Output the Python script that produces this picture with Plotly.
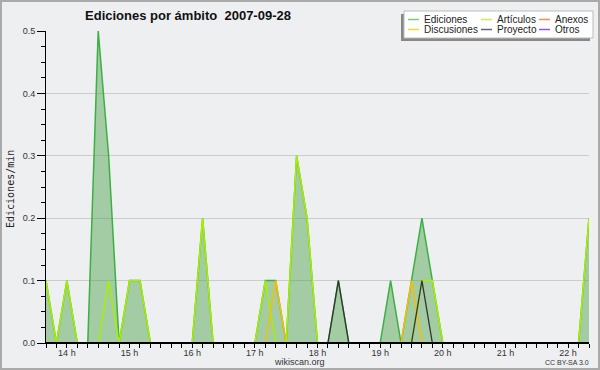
import pandas as pd
import plotly.graph_objects as go

# ---- data (10-minute bins, edits per minute) ----
start_time = "2007-09-28 13:40"
n_bins = 53
times = pd.date_range(start_time, periods=n_bins, freq="10min")

ediciones = [0.1, 0, 0.1, 0, 0, 0.5, 0.3, 0, 0.1, 0.1,
             0, 0, 0, 0, 0, 0.2, 0, 0, 0, 0,
             0, 0.1, 0.1, 0, 0.3, 0.2, 0, 0, 0.1, 0,
             0, 0, 0, 0.1, 0, 0.1, 0.2, 0.1, 0, 0,
             0, 0, 0, 0, 0, 0, 0, 0, 0, 0,
             0, 0, 0.2]
articulos = [0.1, 0, 0.1, 0, 0, 0, 0.1, 0, 0.1, 0.1,
             0, 0, 0, 0, 0, 0.2, 0, 0, 0, 0,
             0, 0.1, 0, 0, 0.3, 0.2, 0, 0, 0, 0,
             0, 0, 0, 0, 0, 0, 0.1, 0.1, 0, 0,
             0, 0, 0, 0, 0, 0, 0, 0, 0, 0,
             0, 0, 0.2]
anexos = [0] * 53
discusiones = [0] * 22 + [0.1] + [0] * 12 + [0.1] + [0] * 17
proyecto = [0] * 28 + [0.1] + [0] * 7 + [0.1] + [0] * 16
otros = [0] * 53

hours = [14, 15, 16, 17, 18, 19, 20, 21, 22]
hour_vals = [f"2007-09-28 {h:02d}:00" for h in hours]
hour_text = [f"{h} h" for h in hours]

title_text = "Ediciones por ámbito\u00a0 2007-09-28"
legend_names = ["Ediciones", "Artículos", "Anexos", "Discusiones", "Proyecto", "Otros"]
legend_colors = ["#77cc77", "#ccee55", "#ff8855", "#ffd633", "#666666", "#9955ee"]

BG = "#eeeff1"
W, H = 600, 370
L, R, T, B = 46, 11, 31, 27
PW, PH = W - L - R, H - T - B


def fx(px):
    return (px - L) / PW


def fy(py):
    return (H - B - py) / PH


fig = go.Figure()
fig.add_trace(go.Scatter(x=times, y=ediciones, mode="lines", name="Ediciones",
                         line=dict(color="#3cb043", width=1.5),
                         fill="tozeroy", fillcolor="rgba(70,160,70,0.45)"))
fig.add_trace(go.Scatter(x=times, y=anexos, mode="lines", name="Anexos",
                         line=dict(color="#ff7744", width=1.5)))
fig.add_trace(go.Scatter(x=times, y=otros, mode="lines", name="Otros",
                         line=dict(color="#9944ff", width=1.5)))
fig.add_trace(go.Scatter(x=times, y=articulos, mode="lines", name="Artículos",
                         line=dict(color="#aaee00", width=1.5)))
fig.add_trace(go.Scatter(x=times, y=discusiones, mode="lines", name="Discusiones",
                         line=dict(color="#f5c000", width=1.5)))
fig.add_trace(go.Scatter(x=times, y=proyecto, mode="lines", name="Proyecto",
                         line=dict(color="#333333", width=1.3)))

fig.update_layout(
    width=W, height=H, showlegend=False,
    margin=dict(l=L, r=R, t=T, b=B, pad=0),
    paper_bgcolor=BG, plot_bgcolor=BG,
    font=dict(family="Liberation Sans", size=9, color="#333333"),
    title=dict(text=title_text, xref="container", yref="container",
               x=188 / W, xanchor="center", y=1 - 15 / H, yanchor="middle",
               font=dict(family="Liberation Sans", size=13, color="#111111", weight="bold")),
)
fig.update_xaxes(
    range=[times[0], times[-1]], showgrid=False, zeroline=False,
    showline=True, linecolor="#000000", linewidth=1,
    tickmode="array", tickvals=hour_vals, ticktext=hour_text,
    ticks="outside", ticklen=4, tickcolor="#000000", tickwidth=1,
    ticklabelstandoff=-3,
    tickfont=dict(size=9, color="#333333"),
    minor=dict(dtick=600000, tick0=times[0], ticks="outside", ticklen=4,
               tickcolor="#000000", showgrid=False),
)
fig.update_yaxes(
    range=[0, 0.5], showgrid=True, gridcolor="#cccccc", gridwidth=1,
    zeroline=False, showline=True, linecolor="#000000", linewidth=1,
    tick0=0, dtick=0.1, tickformat=".1f",
    ticks="outside", ticklen=8, tickcolor="#000000", tickwidth=1,
    tickfont=dict(size=9, color="#333333"),
    minor=dict(dtick=0.025, ticks="outside", ticklen=4, tickcolor="#000000", showgrid=False),
)

shapes = [
    # baseline over zero-valued lines
    dict(type="line", xref="paper", yref="y", x0=0, x1=1, y0=0, y1=0,
         line=dict(color="#000000", width=2), layer="above"),
    # outer border
    dict(type="rect", xref="paper", yref="paper", x0=fx(1), x1=fx(599), y0=fy(1), y1=fy(369),
         line=dict(color="#aaaaaa", width=2), fillcolor="rgba(0,0,0,0)", layer="above"),
    # legend shadow
    dict(type="rect", xref="paper", yref="paper", x0=fx(401), x1=fx(590), y0=fy(14), y1=fy(41),
         line=dict(width=0), fillcolor="#888888", layer="above"),
    # legend box
    dict(type="rect", xref="paper", yref="paper", x0=fx(404), x1=fx(593), y0=fy(11), y1=fy(38),
         line=dict(color="#bbbbbb", width=1), fillcolor="#ffffff", layer="above"),
]
annotations = []
col_x = [408, 481, 539]
row_y = [19.5, 29.5]
for k, (name, color) in enumerate(zip(legend_names, legend_colors)):
    cx = col_x[k % 3]
    ry = row_y[k // 3]
    shapes.append(dict(type="line", xref="paper", yref="paper",
                       x0=fx(cx), x1=fx(cx + 11), y0=fy(ry), y1=fy(ry),
                       line=dict(color=color, width=1.5), layer="above"))
    annotations.append(dict(text=name, xref="paper", yref="paper", x=fx(cx + 14), y=fy(ry),
                            xanchor="left", yanchor="middle", showarrow=False,
                            font=dict(family="Liberation Sans", size=10, color="#222222")))

annotations += [
    dict(text="Ediciones/min", xref="paper", yref="paper", x=fx(10), y=fy(189),
         textangle=-90, xanchor="center", yanchor="middle", showarrow=False,
         font=dict(family="DejaVu Sans Mono", size=10, color="#222222")),
    dict(text="wikiscan.org", xref="paper", yref="paper", x=fx(299), y=fy(362),
         xanchor="center", yanchor="middle", showarrow=False,
         font=dict(family="Liberation Sans", size=9, color="#333333")),
    dict(text="CC BY-SA 3.0", xref="paper", yref="paper", x=fx(591), y=fy(362.5),
         xanchor="right", yanchor="middle", showarrow=False,
         font=dict(family="Liberation Sans", size=7, color="#333333")),
]
fig.update_layout(shapes=shapes, annotations=annotations)

fig.write_html("out.html")
